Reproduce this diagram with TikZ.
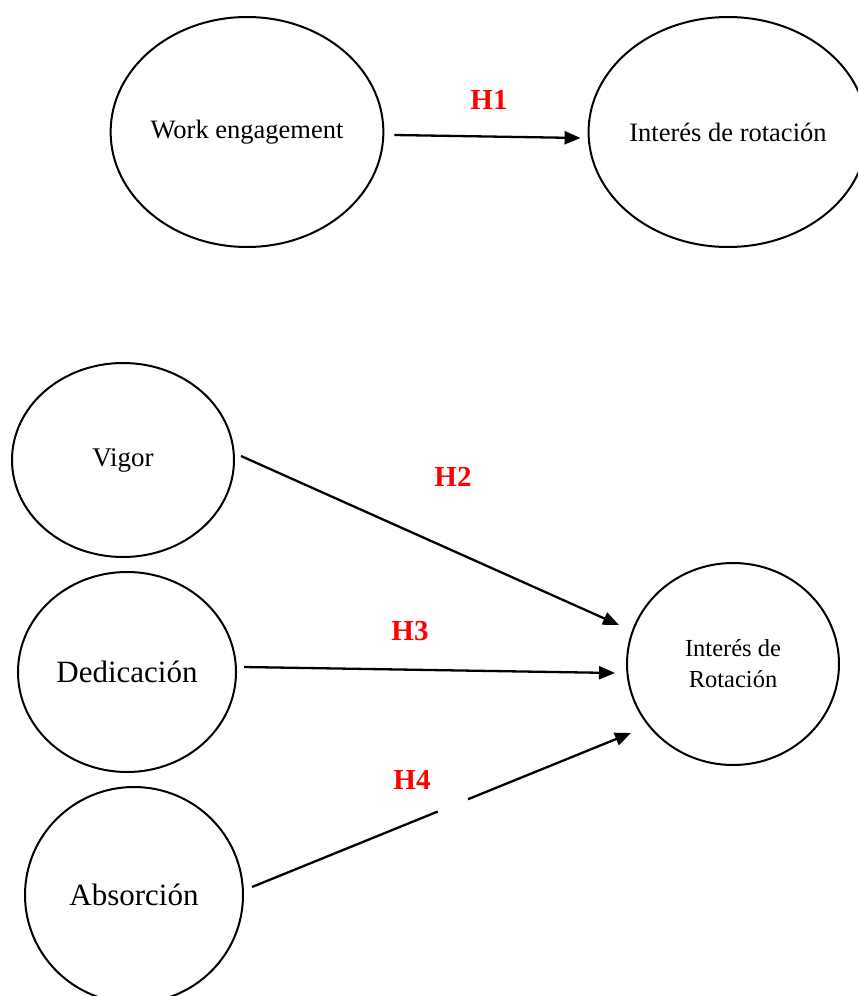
\documentclass[tikz,border=0pt]{standalone}
\usepackage{fontspec}
\setmainfont{Liberation Serif}
\usetikzlibrary{positioning,arrows.meta,shapes,calc}

\begin{document}
\begin{tikzpicture}
[x=1pt, y=-1pt,
    >={Triangle[length=16pt,width=13pt]},
    every node/.style={align=center, inner sep=0pt},
    construct/.style={ellipse, draw=black, line width=2pt},
    hyp/.style={text=red, font=\fontsize{29}{32}\selectfont\bfseries},
    link/.style={draw=black, line width=2.3pt},
    ]
    \useasboundingbox (0,0) rectangle (858,996);

    % modelo general
    \node[construct, minimum width=268pt, minimum height=230pt,
          font=\fontsize{26.5}{31}\selectfont] (we) at (247,132) {Work engagement};
    \node[construct, minimum width=262pt, minimum height=230pt,
          font=\fontsize{26.5}{31}\selectfont] (rot1) at (728,132) {Interés de rotación};

    % dimensiones
    \node[construct, minimum width=222pt, minimum height=194pt,
          font=\fontsize{27}{31}\selectfont] (vigor) at (123,460) {Vigor};
    \node[construct, minimum width=218pt, minimum height=200pt,
          font=\fontsize{31}{35}\selectfont] (ded) at (127,672) {Dedicación};
    \node[construct, minimum width=218pt, minimum height=216pt,
          font=\fontsize{31}{35}\selectfont] (abs) at (134,895) {Absorción};
    \node[construct, minimum width=212pt, minimum height=202pt,
          font=\fontsize{24.5}{31}\selectfont] (rot2) at (733,664) {Interés de\\Rotación};

    % hipotesis
    \draw[link,->] ($(we.east)+(10,3)$) -- ($(rot1.west)+(-7,6)$);
    \node[hyp] (h1) at (489,100) {H1};

    \draw[link,->] ($(vigor.east)+(6,-4)$) -- ($(rot2.west)+(-7,-39)$);
    \node[hyp] (h2) at (453,477) {H2};

    \draw[link,->] ($(ded.east)+(7,-5)$) -- ($(rot2.west)+(-11,9)$);
    \node[hyp] (h3) at (410,631) {H3};

    \path ($(abs.east)+(8,-8)$) coordinate (a4) -- ($(rot2.west)+(5,69)$) coordinate (b4)
        coordinate[pos=.49] (g1) coordinate[pos=.57] (g2);
    \draw[link] (a4) -- (g1);
    \draw[link,->] (g2) -- (b4);
    \node[hyp] (h4) at (412,780) {H4};

\end{tikzpicture}
\end{document}
